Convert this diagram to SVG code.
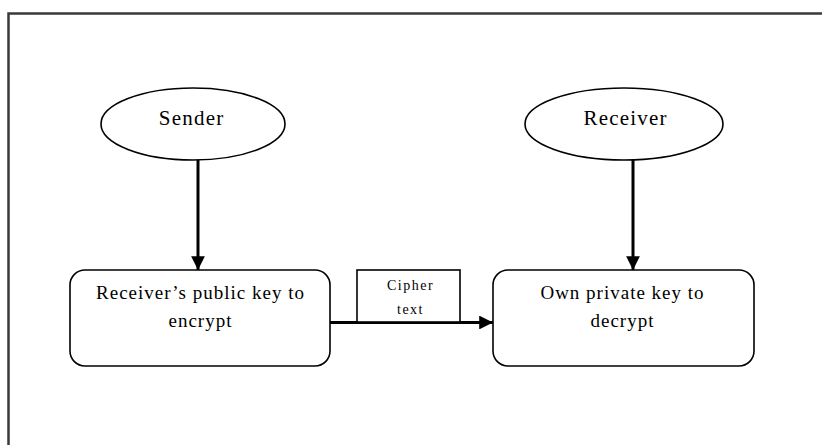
<svg xmlns="http://www.w3.org/2000/svg" width="822" height="445" viewBox="0 0 822 445">
  <style>
    .frame { fill: none; stroke: #3a3a3a; stroke-width: 2.5; }
    .shape { fill: #ffffff; stroke: #000000; stroke-width: 1.6; }
    .label { font-family: "Liberation Serif", "Times New Roman", serif; fill: #000000; text-anchor: middle; }
    .title { font-size: 21px; letter-spacing: 1.2px; }
    .big { font-size: 19px; letter-spacing: 1px; }
    .small { font-size: 14px; letter-spacing: 1.5px; }
    .wire { fill: none; stroke: #000000; stroke-width: 3; }
  </style>
  <defs>
    <marker id="head" viewBox="0 0 10 10" refX="10" refY="5" markerWidth="4.6" markerHeight="4.6" markerUnits="strokeWidth" orient="auto">
      <path d="M0,0 L10,5 L0,10 z" fill="#000000"/>
    </marker>
  </defs>

  <rect width="822" height="445" fill="#ffffff"/>
  <!-- page frame, open on the right and bottom -->
  <path class="frame" d="M8.5,450 L8.5,13.5 L830,13.5"/>

  <g id="connectors">
    <line class="wire" x1="198" y1="160" x2="198" y2="270" marker-end="url(#head)"/>
    <line class="wire" x1="633" y1="160" x2="633" y2="270" marker-end="url(#head)"/>
    <line class="wire" x1="330" y1="322.5" x2="493" y2="322.5" marker-end="url(#head)"/>
  </g>

  <g id="sender">
    <ellipse class="shape" cx="193" cy="124" rx="92" ry="36"/>
    <text class="label title" x="191.6" y="125">Sender</text>
  </g>

  <g id="receiver">
    <ellipse class="shape" cx="624" cy="124" rx="99" ry="36"/>
    <text class="label title" x="625.6" y="125">Receiver</text>
  </g>

  <g id="encrypt">
    <rect class="shape" x="70" y="270" width="260" height="96" rx="15" ry="15"/>
    <text class="label big" x="200.5" y="299">Receiver’s public key to</text>
    <text class="label big" x="200.5" y="327">encrypt</text>
  </g>

  <g id="cipher">
    <rect class="shape" x="357" y="270" width="103" height="52"/>
    <text class="label small" x="410.5" y="290">Cipher</text>
    <text class="label small" x="410.5" y="314">text</text>
  </g>

  <g id="decrypt">
    <rect class="shape" x="493" y="270" width="261" height="96" rx="15" ry="15"/>
    <text class="label big" x="622.5" y="299">Own private key to</text>
    <text class="label big" x="622.5" y="327">decrypt</text>
  </g>
</svg>
